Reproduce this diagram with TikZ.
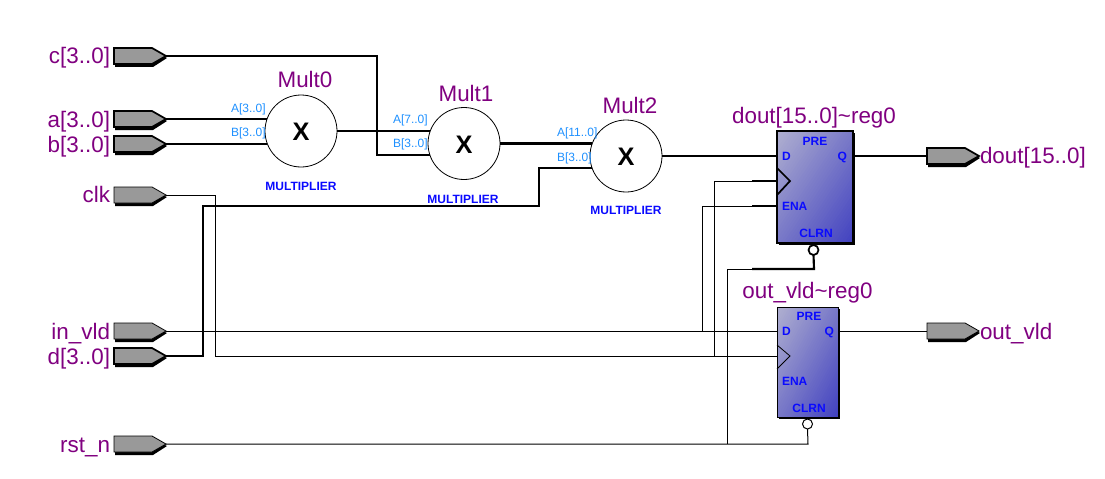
\documentclass[tikz,border=0pt]{standalone}
\usepackage{fontspec}
\setmainfont{Liberation Sans}
\usetikzlibrary{shadows,calc}
\definecolor{lblpurple}{RGB}{128,0,128}
\definecolor{portblue}{RGB}{30,144,255}
\definecolor{regblue}{RGB}{10,10,255}
\definecolor{pingray}{RGB}{153,153,153}
\definecolor{shadelight}{RGB}{178,178,208}
\definecolor{shadedark}{RGB}{66,66,192}
\tikzset{
  every node/.style={inner sep=0pt,outer sep=0pt},
  bus/.style={line width=1.6pt},
  wire/.style={line width=0.75pt},
  name lbl/.style={text=lblpurple,font=\fontsize{16.8pt}{18pt}\selectfont},
  port lbl/.style={text=portblue,font=\fontsize{9pt}{10pt}\selectfont,anchor=base west},
  kind lbl/.style={text=regblue,font=\fontsize{9pt}{10pt}\selectfont\bfseries,anchor=base},
  mult/.style={circle,draw,fill=white,line width=0.6pt,minimum size=54pt},
  op lbl/.style={text=black,font=\fontsize{19pt}{22pt}\selectfont\bfseries},
  reg lbl/.style={text=regblue,font=\fontsize{9pt}{10pt}\selectfont\bfseries},
  reg/.style={draw,fill=white},
  bubble/.style={circle,draw,fill=white,line width=0.75pt,minimum size=7.5pt},
}
% name, tip x, tip y, outline width
\newcommand{\ioport}[4]{%
  \coordinate (#1) at (#2,#3);
  \begin{scope}[shift={(#2,#3)}]
    \fill[black] (-51,-5) -- (-13,-5) -- (1,2) -- (-13,11) -- (-51,11) -- cycle;
    \draw[fill=pingray,line width=#4,line join=miter] (-52,-8) -- (-14,-8) -- (0,0) -- (-14,8) -- (-52,8) -- cycle;
  \end{scope}}
% diagonal gradient, light at top left: x0, y0, w, h, outline width
\newcommand{\reggrad}[5]{%
  \begin{scope}
    \clip (#1,#2) rectangle ({#1+#3},{#2+#4});
    \foreach \i in {0,...,50}{
      \pgfmathtruncatemacro{\pc}{100-2*\i}
      \fill[shadedark!\pc!shadelight] (#1,#2) -- ({#1+(2-\i*0.04)*#3},#2) -- (#1,{#2+(2-\i*0.04)*#4}) -- cycle;
    }
  \end{scope}
  \draw[line width=#5] (#1,#2) rectangle ({#1+#3},{#2+#4});}
\begin{document}
\begin{tikzpicture}[x=0.75pt,y=-0.75pt]
\useasboundingbox (0,0) rectangle (1105,478);

% ports
\ioport{pc}{166}{56}{1.3pt}
\ioport{pa}{166}{119}{1.3pt}
\ioport{pb}{166}{144}{1.3pt}
\ioport{pclk}{166}{195}{0.6pt}
\ioport{pin}{166}{331}{0.6pt}
\ioport{pd}{166}{356}{1.3pt}
\ioport{prst}{166}{444}{0.6pt}
\ioport{pdout}{979}{156}{1.3pt}
\ioport{pout}{979}{331}{0.6pt}

% blocks
\node[mult] (m0) at (301,131) {};
\node[mult] (m1) at (464,143.5) {};
\node[mult] (m2) at (626,156) {};
\node[reg,line width=1.5pt,minimum width=57pt,minimum height=84pt,
      drop shadow={shadow xshift=1.2pt,shadow yshift=-1.2pt,fill=black,opacity=1}] (r1) at (815,187) {};
\reggrad{777}{131}{76}{112}{1.5pt}
\node[reg,line width=0.75pt,minimum width=45.75pt,minimum height=82.5pt,
      drop shadow={shadow xshift=1.5pt,shadow yshift=-1.5pt,fill=black,opacity=1}] (r2) at (807.5,362) {};
\reggrad{777}{307}{61}{110}{0.75pt}
\node[bubble,line width=1.3pt] (b1) at (813.5,250) {};
\node[bubble] (b2) at (807.5,424) {};

% register pins
\coordinate (r1d) at (777,156);
\coordinate (r1q) at (853,156);
\coordinate (r1c) at (777,181);
\coordinate (r1e) at (777,206);
\coordinate (r2d) at (777,331);
\coordinate (r2q) at (838,331);
\coordinate (r2c) at (777,356);

% clock triangles
\draw[line width=1.3pt] (777,168) -- (790,181) -- (777,195);
\draw[line width=0.6pt] (777,345) -- (790,356) -- (777,369);

% bus wires
\draw[bus] (pc) -- (377,56) |- (m1.199.5);
\draw[bus] (pa) -- (pa -| m0.160.5);
\draw[bus] (pb) -- (pb -| m0.199.5);
\draw[bus] (m0.east) -- (m0.east -| m1.160.5);
\draw[bus] (m1.east) -- (m1.east -| m2.160.5);
\draw[bus] (pd) -- (203,356) -- (203,206) -- (539,206) |- (m2.199.5);
\draw[bus] (m2.east) -- (r1d);
\draw[bus] (r1q) -- ($(pdout)+(-52,0)$);

% bit wires
\draw[wire] (pclk) -- (215,195) -- (215,356) -- (r2c);
\draw[wire] (714,356) -- (714,181) -- (r1c);
\draw[wire] (pin) -- (r2d);
\draw[wire] (702,331) -- (702,206) -- (r1e);
\draw[wire] (prst) -- (808,444) -- (b2.south);
\draw[wire] (727,444) -- (727,269) -- (752,269);
\draw[wire] (r2q) -- ($(pout)+(-52,0)$);
\draw[bus] (752,181) -- (r1c);
\draw[bus] (752,206) -- (r1e);
\draw[bus] (752,269) -- (814,269) -- (b1.south);

% block texts
\node[op lbl] (x0) at (301,132) {X};
\node[op lbl] (x1) at (464,145) {X};
\node[op lbl] (x2) at (626,157) {X};
\node[name lbl,anchor=base] (t0) at (305,88) {Mult0};
\node[name lbl,anchor=base] (t1) at (466,101) {Mult1};
\node[name lbl,anchor=base] (t2) at (630,113) {Mult2};
\node[kind lbl] (k0) at (301,190) {MULTIPLIER};
\node[kind lbl] (k1) at (463,203) {MULTIPLIER};
\node[kind lbl] (k2) at (626,214) {MULTIPLIER};
\node[port lbl] (a0) at (231,112) {A[3..0]};
\node[port lbl] (b0) at (231,136) {B[3..0]};
\node[port lbl] (a1) at (393,123) {A[7..0]};
\node[port lbl] (b1l) at (393,147) {B[3..0]};
\node[port lbl] (a2) at (557,136) {A[11..0]};
\node[port lbl] (b2l) at (557,161) {B[3..0]};
\node[name lbl,anchor=base] (r1t) at (814,123) {dout[15..0]\textasciitilde reg0};
\node[name lbl,anchor=base] (r2t) at (807.5,298) {out\_vld\textasciitilde reg0};

\node[reg lbl,anchor=base] (r1pre) at (815,145) {PRE};
\node[reg lbl,anchor=base west] (r1dl) at (782,160) {D};
\node[reg lbl,anchor=base east] (r1ql) at (847,160) {Q};
\node[reg lbl,anchor=base west] (r1el) at (782,210) {ENA};
\node[reg lbl,anchor=base] (r1cl) at (816,237) {CLRN};
\node[reg lbl,anchor=base] (r2pre) at (809,320) {PRE};
\node[reg lbl,anchor=base west] (r2dl) at (782,335) {D};
\node[reg lbl,anchor=base east] (r2ql) at (834,335) {Q};
\node[reg lbl,anchor=base west] (r2el) at (782,385) {ENA};
\node[reg lbl,anchor=base] (r2cl) at (809,412) {CLRN};

% port names
\node[name lbl,anchor=base east] (lc) at (110,64) {c[3..0]};
\node[name lbl,anchor=base east] (la) at (110,127) {a[3..0]};
\node[name lbl,anchor=base east] (lb) at (110,152) {b[3..0]};
\node[name lbl,anchor=base east] (lclk) at (110,202) {clk};
\node[name lbl,anchor=base east] (lin) at (110,339) {in\_vld};
\node[name lbl,anchor=base east] (ld) at (110,364) {d[3..0]};
\node[name lbl,anchor=base east] (lrst) at (110,452) {rst\_n};
\node[name lbl,anchor=base west] (ldout) at (980,163) {dout[15..0]};
\node[name lbl,anchor=base west] (lout) at (980,339) {out\_vld};
\end{tikzpicture}
\end{document}
